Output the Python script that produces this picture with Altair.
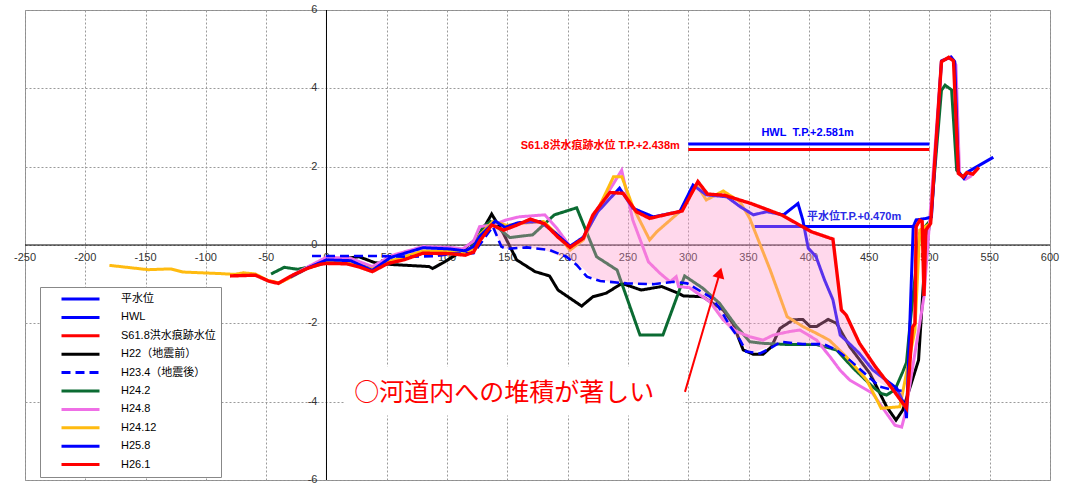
import altair as alt
import pandas as pd

# ---------------- axis ticks ----------------
x_ticks = [-250, -200, -150, -100, -50, 0, 50, 100, 150, 200, 250, 300, 350, 400, 450, 500, 550, 600]
y_ticks = [-6, -4, -2, 0, 2, 4, 6]

# ---------------- series names / styles ----------------
names = ["平水位", "HWL", "S61.8洪水痕跡水位", "H22（地震前）", "H23.4（地震後）",
         "H24.2", "H24.8", "H24.12", "H25.8", "H26.1"]
colors = ["#0000ff", "#0000ff", "#ff0000", "#000000", "#0000ff",
          "#0b6b32", "#ef6fe6", "#ffbb10", "#0000ff", "#ff0000"]
dashes = [[1, 0], [1, 0], [1, 0], [1, 0], [9, 5], [1, 0], [1, 0], [1, 0], [1, 0], [1, 0]]

# ---------------- reference water levels ----------------
hei_x = [355, 488]
hei_y = [0.470, 0.470]
hwl_x = [300, 500]
hwl_y = [2.581, 2.581]
s618_x = [300, 500]
s618_y = [2.438, 2.438]

# ---------------- cross sections ----------------
h22_x = [0, 27, 40, 55, 85, 88, 98, 110, 122, 128, 137, 146.6, 157.7, 173, 185, 192, 211.6, 221, 232, 245,
         261, 278, 291.7, 296, 312, 329, 337, 345.6, 354, 362, 369, 376, 387, 395, 401, 406.5, 416, 423, 434,
         450.7, 459, 464.5, 472.3, 478, 485, 491, 496, 500]
h22_y = [-0.4, -0.3, -0.45, -0.5, -0.55, -0.6, -0.43, -0.2, 0.1, 0.3, 0.79, 0.3, -0.38, -0.68, -0.79, -1.15,
         -1.56, -1.32, -1.23, -0.98, -1.15, -1.06, -1.23, -1.3, -1.32, -1.66, -2.0, -2.68, -2.79, -2.79, -2.6,
         -2.13, -1.91, -1.9, -2.08, -2.08, -1.9, -2.0, -2.6, -3.28, -3.79, -4.13, -4.47, -4.21, -3.53, -2.94,
         -0.5, 0.55]

h234_x = [-12, 39, 72, 91, 105, 122, 126, 138, 145, 149, 166, 185, 199, 207.5, 216, 227, 249, 271, 288, 299,
          318, 325, 335, 343, 348, 359.5, 368, 377, 395, 412, 423, 434, 459, 470, 477]
h234_y = [-0.28, -0.28, -0.3, -0.28, -0.22, -0.21, -0.04, 0.47, -0.04, -0.1, -0.06, -0.13, -0.3, -0.51,
          -0.81, -0.92, -0.98, -1.0, -0.94, -0.98, -1.32, -1.57, -2.08, -2.43, -2.72, -2.77, -2.64, -2.47,
          -2.53, -2.53, -2.68, -2.94, -3.62, -3.7, -3.72]

h242_x = [-46, -35, -24, -12, 0, 20, 38, 52, 80, 100, 115, 122, 130, 136, 152, 171, 189, 207.5, 224, 241,
          260, 279, 297, 312, 326, 340, 351, 362, 382, 406.5, 423, 437, 453, 460, 464.5, 471.4, 478, 481,
          484, 492, 501, 510, 513, 518.4, 522.6, 528]
h242_y = [-0.74, -0.57, -0.62, -0.55, -0.45, -0.48, -0.6, -0.45, -0.2, -0.15, -0.22, 0.0, 0.47, 0.6, 0.19,
          0.26, 0.77, 0.95, -0.3, -0.64, -2.3, -2.3, -0.79, -1.1, -1.49, -2.08, -2.47, -2.51, -2.54, -2.54,
          -2.68, -3.15, -3.62, -3.79, -3.83, -3.7, -3.23, -3.0, -2.0, 0.3, 0.64, 3.95, 4.08, 3.96, 1.91, 1.74]

h248_x = [-30, -15, 0, 20, 38, 55, 80, 102, 113, 122, 127, 138, 149, 160, 181, 191, 202, 213, 224, 236.5,
          244.8, 254, 267, 276.5, 285, 290, 292, 301, 318, 329, 340, 351, 362, 370.5, 384, 392.6, 406.5,
          417.5, 426, 434, 453, 464.5, 471.4, 477, 480, 495.5, 500, 510, 518, 522, 525, 530, 534, 540]
h248_y = [-0.8, -0.55, -0.31, -0.34, -0.55, -0.26, -0.04, -0.06, -0.1, 0.1, 0.47, 0.51, 0.64, 0.72, 0.77,
          0.43, -0.04, 0.15, 0.89, 1.49, 1.91, 0.64, -0.43, -0.72, -0.94, -0.81, -1.06, -1.09, -1.45, -1.91,
          -2.21, -2.34, -2.43, -2.3, -2.21, -2.17, -2.43, -2.85, -3.2, -3.45, -3.79, -4.3, -4.6, -4.65, -4.3,
          -1.32, 0.55, 4.7, 4.8, 4.6, 1.8, 1.68, 1.75, 1.95]

h2412_x = [-180, -148, -129, -119, -88, -76, -69, -59, -49, -39, -28, -16, 0, 20, 38, 52, 80, 102, 115, 122,
           127, 138, 150, 160, 180, 192, 202, 213, 238, 245, 254, 268, 274, 293, 307, 315, 329, 343, 351, 368,
           382, 395, 406, 417, 431, 448, 460, 475.5, 488, 492, 501]
h2412_y = [-0.52, -0.63, -0.61, -0.69, -0.73, -0.75, -0.71, -0.74, -0.9, -0.97, -0.8, -0.6, -0.42, -0.44,
           -0.62, -0.42, -0.15, -0.15, -0.2, -0.08, 0.25, 0.6, 0.5, 0.55, 0.6, 0.25, -0.13, 0.13, 1.74, 1.74,
           0.98, 0.13, 0.34, 0.85, 1.53, 1.15, 1.38, 1.1, 0.68, -0.64, -1.83, -2.08, -2.25, -2.43, -2.85, -3.45,
           -4.17, -4.13, -2.17, 0.38, 0.55]

h258_x = [-30, -15, 0, 20, 38, 53, 80, 102, 115, 122, 127, 140, 148, 159, 177, 190, 202, 213, 225, 243, 254,
          271, 293, 304, 315, 332, 343, 354, 365, 379, 391, 395, 399.5, 406, 413, 420, 426, 432, 442, 453, 464,
          473, 480, 481, 486.6, 489, 497.6, 501.7, 510, 518, 521, 524, 528.6, 532, 553]
h258_y = [-0.82, -0.58, -0.38, -0.4, -0.65, -0.32, -0.07, -0.1, -0.15, -0.04, 0.22, 0.61, 0.45, 0.57, 0.6,
          0.3, -0.03, 0.2, 0.85, 1.45, 0.94, 0.72, 0.85, 1.53, 1.28, 1.23, 0.98, 0.77, 0.85, 0.77, 1.06, 0.64,
          -0.08, -0.3, -0.89, -1.4, -2.3, -2.47, -2.77, -3.19, -3.45, -3.66, -4.13, -4.42, 0.47, 0.64, 0.68,
          0.72, 4.7, 4.8, 4.68, 1.87, 1.7, 1.87, 2.24]

h261_x = [-80, -59, -48, -40, -28, -16, -5, 0, 17, 28, 38, 51, 64, 80, 102, 115, 122, 127, 137, 147, 158,
          169, 181, 192, 202, 213, 221, 235, 246, 257, 268, 282, 295, 308, 316, 330, 352, 378, 402, 420, 427,
          431, 442, 455, 469, 481, 486, 488, 489, 492, 494, 495.5, 497, 501, 510, 516, 520, 524, 528, 531,
          536, 541]
h261_y = [-0.79, -0.77, -0.92, -0.98, -0.77, -0.6, -0.49, -0.47, -0.48, -0.57, -0.68, -0.47, -0.38, -0.21,
          -0.22, -0.26, -0.18, 0.1, 0.51, 0.38, 0.51, 0.66, 0.54, 0.2, -0.06, 0.17, 0.77, 1.34, 1.32, 0.85,
          0.68, 0.78, 0.87, 1.62, 1.3, 1.27, 1.06, 0.76, 0.34, 0.15, -1.66, -1.79, -2.51, -3.1, -3.66, -4.17,
          -2.1, -2.0, 0.47, 0.63, 0.6, -1.3, 0.38, 0.55, 4.68, 4.79, 4.7, 1.83, 1.74, 1.85, 1.81, 1.98]

# ---------------- deposition (shaded) zone ----------------
shade_x = [128, 137, 147, 158, 169, 181, 192, 202, 213, 221, 235, 246, 257, 268, 282, 295, 308, 316, 330,
           352, 378, 402, 420, 427, 431, 442, 455, 469, 478]
shade_top = [0.2, 0.51, 0.38, 0.51, 0.66, 0.54, 0.2, -0.06, 0.17, 0.77, 1.34, 1.32, 0.85, 0.68, 0.78, 0.87,
             1.62, 1.3, 1.27, 1.06, 0.76, 0.34, 0.15, -1.66, -1.79, -2.51, -3.1, -3.66, -3.95]
shade_bot = [0.1, 0.45, -0.1, -0.07, -0.07, -0.13, -0.27, -0.35, -0.6, -0.85, -0.94, -0.97, -0.99, -1.0,
             -0.95, -0.97, -1.21, -1.43, -2.0, -2.77, -2.47, -2.53, -2.65, -2.75, -2.8, -3.1, -3.45, -3.68,
             -3.75]

# ---------------- labels / annotation ----------------
ref_text = ["HWL\u00a0\u00a0T.P.+2.581m", "S61.8洪水痕跡水位 T.P.+2.438m", "平水位T.P.+0.470m"]
ref_x = [399, 293, 398.4]
ref_y = [2.86, 2.53, 0.71]
ref_col = ["#0000ff", "#ff0000", "#2a2ae6"]

note_text = ["○河道内への堆積が著しい"]
note_x = [23]
note_y = [-3.78]
box_x = [15]
box_x2 = [296]
box_y = [-3.1]
box_y2 = [-4.35]
arrow_x = [297.3]
arrow_y = [-3.75]
arrow_x2 = [326.2]
arrow_y2 = [-0.71]

FONT = "Liberation Sans, Noto Sans CJK JP, sans-serif"
CJK = "Noto Sans CJK JP, sans-serif"

xscale = alt.Scale(domain=[-250, 600], nice=False, zero=False)
yscale = alt.Scale(domain=[-6, 6], nice=False, zero=False)
xaxis = alt.Axis(values=x_ticks, grid=True, gridDash=[2, 2], gridColor="#9a9a9a", gridWidth=1,
                 labels=False, ticks=False, domain=False, title=None)
yaxis = alt.Axis(values=y_ticks, grid=True, gridDash=[2, 2], gridColor="#9a9a9a", gridWidth=1,
                 labels=False, ticks=False, domain=False, title=None)


def X(f="x"):
    return alt.X(f + ":Q", scale=xscale, axis=xaxis)


def Y(f="y"):
    return alt.Y(f + ":Q", scale=yscale, axis=yaxis)


def line_df(name, xs, ys):
    return pd.DataFrame({"series": name, "x": xs, "y": ys, "idx": list(range(len(xs)))})


under = pd.concat([
    line_df(names[0], hei_x, hei_y),
    line_df(names[1], hwl_x, hwl_y),
    line_df(names[2], s618_x, s618_y),
    line_df(names[3], h22_x, h22_y),
    line_df(names[5], h242_x, h242_y),
    line_df(names[6], h248_x, h248_y),
    line_df(names[7], h2412_x, h2412_y),
    line_df(names[8], h258_x, h258_y),
], ignore_index=True)
dashed = line_df(names[4], h234_x, h234_y)
red = line_df(names[9], h261_x, h261_y)

leg = alt.Legend(orient="none", legendX=15, legendY=277, title=None, symbolType="stroke",
                 symbolSize=1444, symbolStrokeWidth=3, clipHeight=14, rowPadding=4.4, padding=5,
                 symbolOffset=15, labelOffset=20, labelFontSize=11, labelFont=FONT, labelColor="#000",
                 strokeColor="#888", fillColor="white", labelLimit=300)
color_enc = alt.Color("series:N", scale=alt.Scale(domain=names, range=colors), legend=leg)
dash_enc = alt.StrokeDash("series:N", scale=alt.Scale(domain=names, range=dashes), legend=leg)

zero = pd.DataFrame({"x": [0], "y": [0]})
hrule = alt.Chart(zero).mark_rule(color="black", strokeWidth=1).encode(y=Y())
vrule = alt.Chart(zero).mark_rule(color="black", strokeWidth=1).encode(x=X())

xlab = pd.DataFrame({"x": x_ticks, "y": [0] * len(x_ticks), "label": [str(v) for v in x_ticks]})
ylab = pd.DataFrame({"x": [0] * len(y_ticks), "y": y_ticks, "label": [str(v) for v in y_ticks]})
xlab_layer = alt.Chart(xlab).mark_text(font="Liberation Sans", fontSize=11, color="#333", dy=13,
                                       baseline="middle", align="center").encode(x=X(), y=Y(), text="label:N")
ylab_layer = alt.Chart(ylab).mark_text(font="Liberation Sans", fontSize=11, color="#333", dx=-9,
                                       baseline="middle", align="right").encode(x=X(), y=Y(), text="label:N")

under_layer = alt.Chart(under).mark_line(strokeWidth=3).encode(
    x=X(), y=Y(), color=color_enc, strokeDash=dash_enc, order="idx:Q")

shade = pd.DataFrame({"x": shade_x, "top": shade_top, "bot": shade_bot})
shade_layer = alt.Chart(shade).mark_area(color="#ff8fc8", opacity=0.35).encode(
    x=X(), y=Y("top"), y2="bot:Q")

dashed_layer = alt.Chart(dashed).mark_line(strokeWidth=2.6).encode(
    x=X(), y=Y(), color=color_enc, strokeDash=dash_enc, order="idx:Q")
red_layer = alt.Chart(red).mark_line(strokeWidth=3.4).encode(
    x=X(), y=Y(), color=color_enc, strokeDash=dash_enc, order="idx:Q")

refs = pd.DataFrame({"x": ref_x, "y": ref_y, "text": ref_text, "col": ref_col})
ref_hwl = alt.Chart(refs.iloc[[0]]).mark_text(font="Liberation Sans", fontSize=11, fontWeight="bold",
                                              align="center", baseline="middle").encode(
    x=X(), y=Y(), text="text:N", color=alt.Color("col:N", scale=None))
ref_s61 = alt.Chart(refs.iloc[[1]]).mark_text(font=FONT, fontSize=11, fontWeight="bold",
                                              align="right", baseline="middle").encode(
    x=X(), y=Y(), text="text:N", color=alt.Color("col:N", scale=None))
ref_hei = alt.Chart(refs.iloc[[2]]).mark_text(font=FONT, fontSize=11, fontWeight="bold",
                                              align="left", baseline="middle").encode(
    x=X(), y=Y(), text="text:N", color=alt.Color("col:N", scale=None))

box = pd.DataFrame({"x": box_x, "x2": box_x2, "y": box_y, "y2": box_y2})
box_layer = alt.Chart(box).mark_rect(color="white").encode(x=X(), x2="x2:Q", y=Y(), y2="y2:Q")
note = pd.DataFrame({"x": note_x, "y": note_y, "text": note_text})
note_layer = alt.Chart(note).mark_text(font=CJK, fontSize=25, color="#ff0000", align="left",
                                       baseline="middle").encode(x=X(), y=Y(), text="text:N")
arrow = pd.DataFrame({"x": arrow_x, "y": arrow_y, "x2": arrow_x2, "y2": arrow_y2})
arrow_line = alt.Chart(arrow).mark_rule(color="#ff0000", strokeWidth=2).encode(
    x=X(), y=Y(), x2="x2:Q", y2="y2:Q")
arrow_head = alt.Chart(arrow).mark_point(shape="triangle-up", filled=True, color="#ff0000", size=150,
                                         angle=16, opacity=1).encode(x=X("x2"), y=Y("y2"))

chart = alt.layer(
    hrule, vrule, xlab_layer, ylab_layer, under_layer, shade_layer, dashed_layer, red_layer,
    ref_hwl, ref_s61, ref_hei, box_layer, note_layer, arrow_line, arrow_head
).properties(
    width=1025, height=470,
    autosize=alt.AutoSizeParams(type="none"),
    padding={"left": 25, "top": 10, "right": 21, "bottom": 8},
    background="white",
).configure_view(stroke="#8c8c8c", strokeWidth=1)

chart.save("out.html", embed_options={"renderer": "svg", "actions": False})
